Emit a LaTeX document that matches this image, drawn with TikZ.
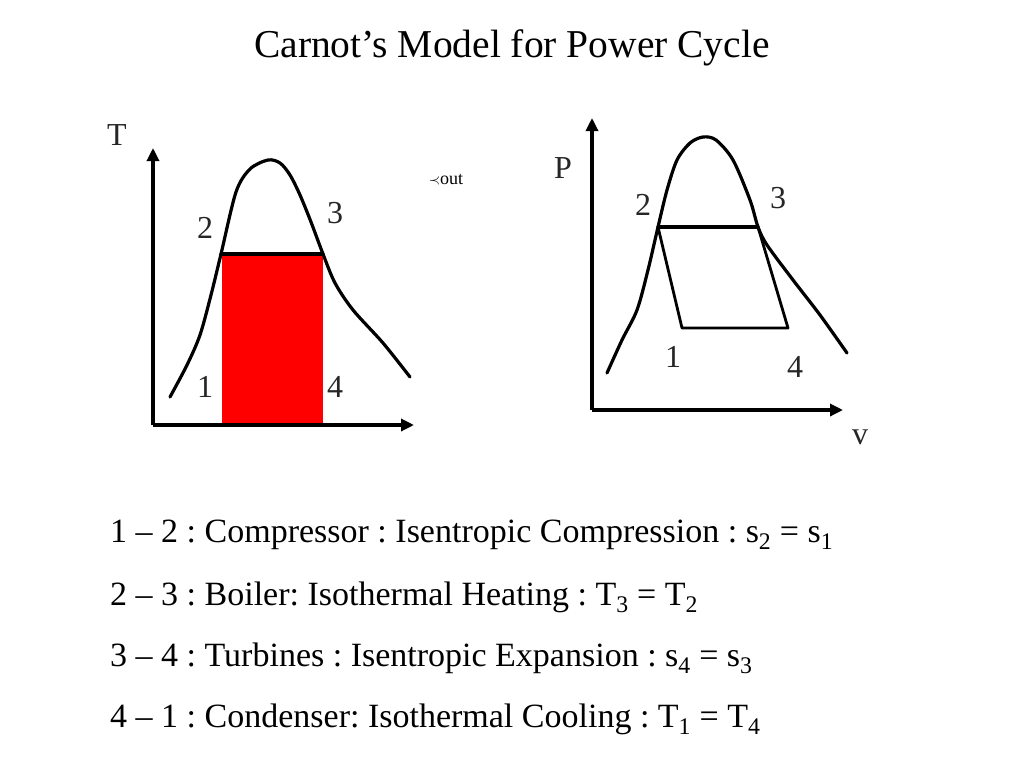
\documentclass[tikz,border=0pt]{standalone}
\usepackage{fontspec}
\setmainfont{Liberation Serif}
\frenchspacing
\usetikzlibrary{arrows.meta,positioning}
\tikzset{
  dome/.style={line width=3.2pt,line join=round,line cap=round},
  axis/.style={line width=3.2pt,-{Triangle[length=13pt,width=12pt]}},
  cyc/.style={line width=2.8pt,line join=round},
  num/.style={font=\fontsize{32}{32}\selectfont,inner sep=0pt,text=black!85},
  proc/.style={font=\fontsize{34}{34}\selectfont,anchor=west,inner sep=0pt}
}

\begin{document}
\begin{tikzpicture}[x=1pt,y=-1pt]
\useasboundingbox (0,0) rectangle (1024,768);
\node (title) at (512,48) {\fontsize{39.5}{39.5}\selectfont Carnot’s Model for Power Cycle};

% T-s diagram
\coordinate (Ts0) at (153,425);
\coordinate (Tstop) at (153,148);
\coordinate (Tsend) at (414,425);
\coordinate (s2) at (221,254);
\coordinate (s3) at (323,254);
\fill[red] ([xshift=1pt,yshift=-2pt]s2) rectangle (s3 |- Ts0);
\draw[dome] plot[smooth] coordinates {(170,397) (187,365) (200,335) (211,295) (s2)
  (236,192) (250,169) (268,160) (280,163) (290,175) (300,195) (311,222) (s3)
  (335,283) (353,310) (383,343) (410,377)};
\draw[dome] (s2) -- (s3);
\draw[axis] (Ts0) -- (Tstop);
\draw[axis] (Ts0) -- (Tsend);
\node[num] (Tlbl) at (117,135) {T};
\node[num] (Tn2) at (205,228) {2};
\node[num] (Tn3) at (335,213) {3};
\node[num] (Tn1) at (205,387) {1};
\node[num] (Tn4) at (335,387) {4};
\node[inner sep=0pt] (Qout) at (446,180) {{\Large$\prec$}{\fontsize{18}{18}\selectfont out}};

% P-v diagram
\coordinate (Pv0) at (592,410);
\coordinate (Pvtop) at (592,118);
\coordinate (Pvend) at (843,410);
\coordinate (v2) at (658,227);
\coordinate (v3) at (758,227);
\coordinate (v1) at (682,328);
\coordinate (v4) at (788,328);
\draw[dome] plot[smooth] coordinates {(607,373) (622,340) (637,310) (648,270) (v2)
  (667,190) (677,160) (690,143) (703,137) (716,140) (733,160) (750,200) (v3)
  (767,245) (793,280) (820,315) (847,353)};
\draw[dome] (v2) -- (v3);
\draw[cyc] (v3) -- (v4) -- (v1) -- (v2);
\draw[axis] (Pv0) -- (Pvtop);
\draw[axis] (Pv0) -- (Pvend);
\node[num] (Plbl) at (563,168) {P};
\node[num] (vlbl) at (860,437) {v};
\node[num] (Pn2) at (643,205) {2};
\node[num] (Pn3) at (778,198) {3};
\node[num] (Pn1) at (673,357) {1};
\node[num] (Pn4) at (795,367) {4};

% process list
\node[proc] (p12) at (110,535) {1 – 2 : Compressor : Isentropic Compression : s\textsubscript{2} = s\textsubscript{1}};
\node[proc] (p23) at (110,597) {2 – 3 : Boiler: Isothermal Heating : T\textsubscript{3} = T\textsubscript{2}};
\node[proc] (p34) at (110,658) {3 – 4 : Turbines : Isentropic Expansion : s\textsubscript{4} = s\textsubscript{3}};
\node[proc] (p41) at (110,719) {4 – 1 : Condenser: Isothermal Cooling : T\textsubscript{1} = T\textsubscript{4}};
\end{tikzpicture}
\end{document}
